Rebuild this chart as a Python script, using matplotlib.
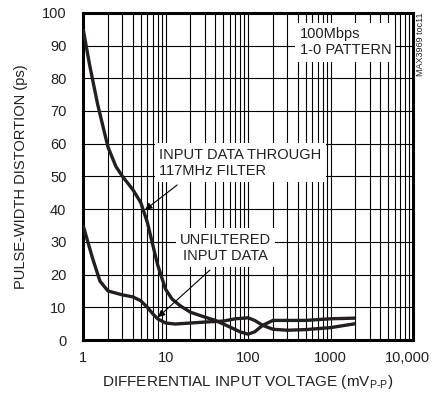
import matplotlib
matplotlib.use('Agg')
import matplotlib.pyplot as plt
from matplotlib.ticker import FixedLocator, NullFormatter
from matplotlib.transforms import ScaledTranslation

plt.rcParams['font.family'] = ['Liberation Sans', 'DejaVu Sans']
plt.rcParams['mathtext.fontset'] = 'custom'
plt.rcParams['mathtext.rm'] = 'Liberation Sans'

# filtered input (117MHz filter)
filt_x = [1, 1.2, 1.5, 2, 2.5, 3, 4, 5, 6, 7, 8, 9, 10, 12, 15, 20, 30, 40, 60, 80,
          100, 120, 150, 200, 300, 500, 1000, 2000]
filt_y = [95, 84, 72, 59, 53, 50, 46, 42, 36, 29, 23, 19, 15.5, 12.5, 10.5, 8.5, 7, 6,
          4, 2.5, 1.8, 2.5, 4.5, 6, 6, 6, 6.5, 6.7]
# unfiltered input
unf_x = [1, 1.3, 1.6, 2, 3, 4, 5, 6, 7, 8, 10, 13, 20, 30, 50, 70, 100, 120, 150, 200,
         300, 500, 1000, 2000]
unf_y = [35, 25, 18, 15, 13.8, 13.2, 12, 10, 8, 6.5, 5.2, 4.9, 5.2, 5.5, 5.8, 6.5, 6.8,
         6, 4.5, 3.3, 3, 3.2, 3.8, 5]

xticks = [1, 10, 100, 1000, 10000]
xticklabels = ['1', '10', '100', '1000', '10,000']
yticks = list(range(0, 101, 10))

fig = plt.figure(figsize=(4.33, 4.01), dpi=100)
ax = fig.add_axes([0.192, 0.152, 0.762, 0.816])
ax.set_xscale('log')
ax.set_xlim(1, 10000)
ax.set_ylim(0, 100)

ax.plot(filt_x, filt_y, color='#231f20', lw=2.4, solid_capstyle='butt', zorder=3)
ax.plot(unf_x, unf_y, color='#231f20', lw=2.4, solid_capstyle='butt', zorder=3)

ax.xaxis.set_major_locator(FixedLocator(xticks))
ax.set_xticklabels(xticklabels)
minors = [m * d for d in [1, 10, 100, 1000] for m in range(2, 10)]
ax.xaxis.set_minor_locator(FixedLocator(minors))
ax.xaxis.set_minor_formatter(NullFormatter())
ax.set_yticks(yticks)
ax.grid(which='both', color='black', lw=0.8)
ax.tick_params(which='both', length=0, labelsize=10.5, colors='#231f20')
ax.tick_params(axis='y', pad=12)
ax.tick_params(axis='x', pad=8)
for s in ax.spines.values():
    s.set_linewidth(2.2)

# nudge the last x label so it stays inside the picture
last = ax.get_xticklabels()[-1]
last.set_transform(last.get_transform() + ScaledTranslation(-4 / 72, 0, fig.dpi_scale_trans))

ax.set_xlabel('DIFFERENTIAL INPUT VOLTAGE (mV$_{\\mathregular{P\u2010P}}$)', fontsize=11,
              labelpad=6, color='#231f20')
ax.set_ylabel('PULSE-WIDTH DISTORTION (ps)', fontsize=10.5, labelpad=10, color='#231f20')

box = dict(facecolor='white', edgecolor='none', pad=3)
ax.text(420, 91, '100Mbps\n1-0 PATTERN', fontsize=10.5, ha='left', va='center',
        linespacing=1.2, bbox=box, zorder=4, color='#231f20')
ax.text(8.4, 54.2, 'INPUT DATA THROUGH\n117MHz FILTER', fontsize=10.5, ha='left',
        va='center', linespacing=1.2, bbox=box, zorder=4, color='#231f20')
ax.text(53, 28.2, 'UNFILTERED\nINPUT DATA', fontsize=10.5, ha='center', va='center',
        linespacing=1.2, bbox=box, zorder=4, color='#231f20')

arrow = dict(arrowstyle='-|>', color='black', lw=0.8, mutation_scale=10,
             shrinkA=0, shrinkB=0)
ax.annotate('', xy=(5.64, 39.8), xytext=(13.8, 47.4), arrowprops=arrow, zorder=5)
ax.annotate('', xy=(8.1, 7.0), xytext=(34.5, 21.4), arrowprops=arrow, zorder=5)

fig.text(0.971, 0.97, 'MAX3969 toc11', rotation=90, fontsize=6.5, ha='center', va='top',
         color='#231f20')

fig.savefig('out.png', dpi=100)
